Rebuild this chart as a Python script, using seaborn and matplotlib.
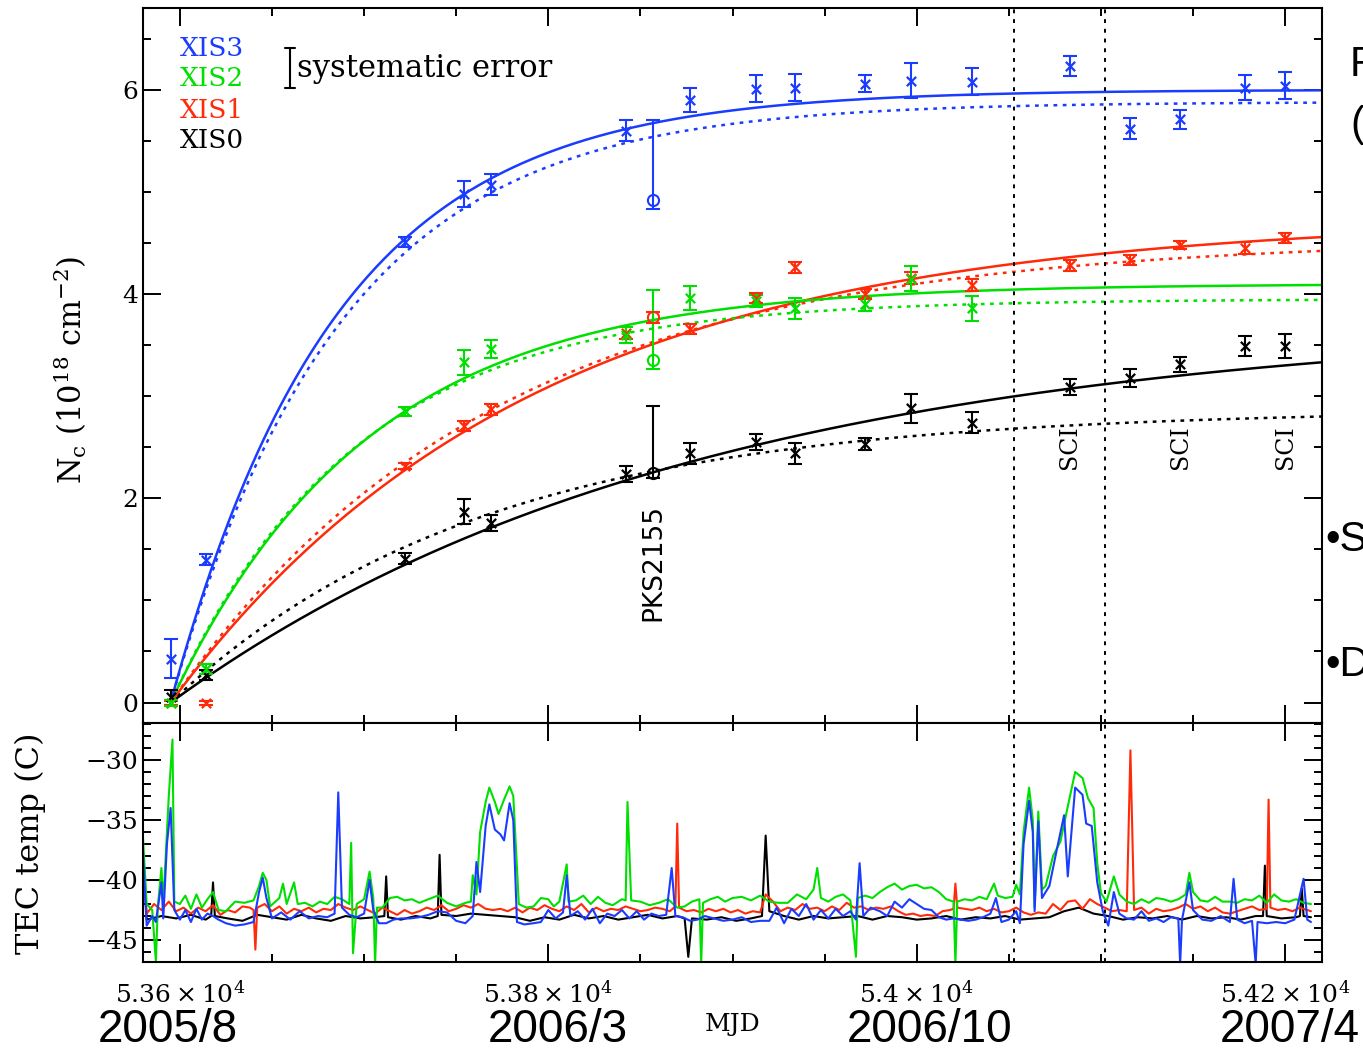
import numpy as np
import pandas as pd
import matplotlib
matplotlib.use("Agg")
import matplotlib.pyplot as plt
import seaborn as sns
from matplotlib.ticker import MultipleLocator, FuncFormatter

sns.set_theme(style="ticks")
plt.rcParams["font.family"] = ["DejaVu Serif"]
plt.rcParams["mathtext.fontset"] = "dejavuserif"
plt.rcParams["axes.unicode_minus"] = True
plt.rcParams["text.color"] = "black"
plt.rcParams["axes.labelcolor"] = "black"
plt.rcParams["xtick.color"] = "black"
plt.rcParams["ytick.color"] = "black"

# ---------------- data: contamination column density ----------------
obs_mjd = [53595, 53614, 53722, 53754, 53769, 53842, 53877, 53913, 53934,
           53972, 53997, 54030, 54083, 54116, 54143, 54178, 54200]
xis3_nc = [0.43, 1.40, 4.51, 4.98, 5.07, 5.60, 5.90, 6.01, 6.02,
           6.06, 6.09, 6.08, 6.23, 5.62, 5.71, 6.02, 6.04]
xis3_err = [0.19, 0.05, 0.05, 0.13, 0.10, 0.10, 0.12, 0.13, 0.13,
            0.08, 0.17, 0.13, 0.10, 0.10, 0.09, 0.12, 0.13]
xis1_nc = [0.0, 0.0, 2.32, 2.71, 2.87, 3.62, 3.66, 3.96, 4.26,
           4.00, 4.16, 4.09, 4.28, 4.33, 4.48, 4.45, 4.55]
xis1_err = [0.02, 0.02, 0.03, 0.05, 0.05, 0.06, 0.05, 0.05, 0.05,
            0.05, 0.06, 0.06, 0.05, 0.05, 0.04, 0.06, 0.05]
xis0_nc = [0.05, 0.27, 1.41, 1.87, 1.76, 2.24, 2.44, 2.55, 2.44,
           2.53, 2.88, 2.74, 3.09, 3.18, 3.31, 3.49, 3.49]
xis0_err = [0.07, 0.05, 0.05, 0.12, 0.08, 0.08, 0.10, 0.08, 0.10,
            0.06, 0.14, 0.10, 0.08, 0.09, 0.07, 0.10, 0.12]
# XIS2 has no observations after 54030
xis2_mjd = [53595, 53614, 53722, 53754, 53769, 53842, 53877, 53913, 53934,
            53972, 53997, 54030]
xis2_nc = [0.0, 0.33, 2.85, 3.33, 3.46, 3.60, 3.96, 3.93, 3.86, 3.90, 4.15, 3.86]
xis2_err = [0.03, 0.05, 0.04, 0.12, 0.09, 0.08, 0.12, 0.06, 0.10, 0.07, 0.12, 0.12]

# PKS2155 calibration points (open circles): value, lower err, upper err
pks_mjd = 53857
pks_nc = {"XIS3": (4.92, 0.09, 0.78), "XIS2": (3.35, 0.08, 0.69),
          "XIS1": (3.77, 0.05, 0.05), "XIS0": (2.25, 0.05, 0.65)}

# exponential fit parameters N = A (1 - exp(-(t - t0)/tau))
fit_t0 = 53595
fit_solid = {"XIS3": (6.00, 90), "XIS2": (4.10, 107), "XIS1": (4.75, 195), "XIS0": (3.75, 285)}
fit_dotted = {"XIS3": (5.88, 92), "XIS2": (3.95, 100), "XIS1": (4.55, 175), "XIS0": (2.87, 168)}

sci_lines = [54053, 54102]
sci_labels_mjd = [54083, 54143, 54200]

# ---------------- data: TEC temperature traces ----------------
tec_xis2 = [(53580, -36.5), (53582, -42.0), (53585, -42.5), (53587, -46.8), (53588, -42.3),
    (53590, -39.0), (53591, -42.0), (53594, -33.0), (53596, -28.3), (53597, -41.8),
    (53600, -42.0), (53603, -41.3), (53606, -42.4), (53609, -41.2), (53612, -42.3),
    (53615, -41.6), (53618, -41.0), (53621, -42.5), (53625, -42.6), (53630, -41.8),
    (53635, -41.9), (53640, -41.7), (53643, -40.5), (53645, -39.4), (53647, -40.0),
    (53649, -42.2), (53654, -41.5), (53656, -40.3), (53658, -42.0), (53662, -40.2),
    (53664, -42.0), (53668, -41.9), (53672, -42.2), (53676, -41.8), (53680, -42.0),
    (53684, -41.4), (53688, -41.6), (53692, -42.0), (53693, -36.9), (53694, -46.1),
    (53696, -42.0), (53700, -41.6), (53703, -39.3), (53705, -41.5), (53706, -47.0),
    (53707, -42.3), (53710, -42.3), (53714, -41.5), (53718, -41.4), (53722, -41.7),
    (53726, -41.6), (53730, -41.9), (53735, -41.6), (53740, -41.3), (53745, -41.9),
    (53750, -42.2), (53755, -41.9), (53758, -41.8), (53759, -39.6), (53761, -41.2),
    (53763, -36.0), (53766, -33.5), (53768, -32.3), (53771, -33.5), (53773, -34.5),
    (53776, -33.3), (53779, -32.2), (53781, -33.0), (53782, -36.0), (53784, -42.0),
    (53788, -42.3), (53792, -42.2), (53796, -41.5), (53800, -41.6), (53803, -42.2),
    (53806, -41.8), (53810, -38.7), (53811, -41.8), (53815, -41.7), (53819, -41.3),
    (53823, -42.0), (53827, -41.4), (53831, -41.9), (53835, -42.1), (53840, -41.6),
    (53842, -41.7), (53843, -33.5), (53845, -41.7), (53850, -41.8), (53855, -42.1),
    (53860, -41.9), (53865, -41.6), (53870, -42.3), (53874, -42.2), (53878, -41.8),
    (53882, -41.6), (53883, -47.0), (53884, -41.9), (53888, -41.6), (53892, -41.4),
    (53896, -41.8), (53900, -41.5), (53905, -41.4), (53910, -41.7), (53915, -41.3),
    (53920, -41.8), (53925, -41.9), (53930, -41.9), (53935, -41.2), (53940, -41.6),
    (53944, -40.8), (53946, -39.0), (53948, -41.5), (53952, -41.8), (53956, -41.4),
    (53960, -41.2), (53964, -41.7), (53967, -46.4), (53968, -41.5), (53972, -41.3),
    (53976, -41.5), (53980, -41.0), (53984, -40.6), (53988, -40.3), (53992, -40.8),
    (53996, -40.5), (54000, -40.4), (54004, -40.7), (54008, -40.6), (54012, -41.0),
    (54016, -41.6), (54020, -41.8), (54021, -47.0), (54022, -41.8), (54026, -41.6),
    (54030, -41.7), (54034, -41.4), (54038, -41.6), (54042, -40.3), (54044, -41.3),
    (54048, -41.5), (54052, -41.4), (54054, -40.4), (54056, -41.2), (54058, -36.0),
    (54061, -32.3), (54063, -35.0), (54064, -42.3), (54066, -34.3), (54068, -40.8),
    (54070, -40.5), (54074, -38.0), (54078, -36.8), (54081, -34.6), (54086, -31.0),
    (54090, -31.5), (54093, -33.2), (54096, -34.0), (54098, -38.6), (54100, -41.1),
    (54103, -41.8), (54107, -39.7), (54110, -41.2), (54114, -41.8), (54118, -42.0),
    (54122, -41.6), (54126, -41.9), (54130, -41.5), (54134, -41.6), (54138, -41.8),
    (54142, -41.6), (54146, -41.2), (54148, -39.4), (54150, -41.0), (54154, -41.7),
    (54158, -41.8), (54162, -41.4), (54166, -41.8), (54170, -41.8), (54174, -41.9),
    (54178, -41.6), (54182, -41.7), (54186, -41.3), (54190, -41.9), (54194, -41.2),
    (54198, -41.7), (54202, -41.8), (54206, -41.6), (54210, -41.9), (54214, -42.0)]

tec_xis3 = [(53580, -37.7), (53582, -43.8), (53585, -43.0), (53587, -43.5), (53590, -40.2),
    (53591, -43.2), (53593, -37.0), (53595, -34.0), (53597, -42.5), (53600, -43.3),
    (53603, -42.5), (53606, -43.5), (53609, -42.4), (53612, -43.3), (53615, -42.8),
    (53618, -43.0), (53621, -43.3), (53625, -43.6), (53630, -43.8), (53635, -43.7),
    (53640, -43.5), (53643, -41.0), (53645, -39.8), (53647, -41.5), (53650, -43.2),
    (53655, -42.7), (53660, -43.3), (53665, -42.6), (53670, -43.2), (53675, -43.0),
    (53680, -43.1), (53684, -42.8), (53686, -32.7), (53688, -42.3), (53692, -42.9),
    (53696, -43.1), (53700, -42.8), (53703, -40.0), (53705, -42.5), (53708, -43.6),
    (53712, -43.6), (53716, -43.3), (53720, -43.2), (53725, -43.2), (53730, -43.1),
    (53735, -42.9), (53740, -42.6), (53745, -42.7), (53750, -43.4), (53755, -43.6),
    (53759, -43.0), (53761, -38.5), (53763, -41.0), (53766, -35.5), (53768, -33.7),
    (53771, -35.8), (53774, -36.2), (53776, -36.7), (53779, -33.6), (53781, -35.0),
    (53783, -43.5), (53787, -43.7), (53792, -43.6), (53796, -43.5), (53800, -42.5),
    (53804, -43.2), (53808, -42.7), (53810, -39.6), (53812, -43.0), (53816, -42.6),
    (53820, -43.3), (53824, -42.4), (53828, -43.6), (53832, -42.8), (53836, -43.0),
    (53840, -42.5), (53844, -43.2), (53848, -42.6), (53852, -43.3), (53856, -42.8),
    (53860, -43.0), (53864, -42.9), (53867, -39.0), (53869, -43.0), (53873, -43.1),
    (53877, -43.4), (53881, -43.3), (53885, -43.0), (53890, -43.2), (53895, -43.4),
    (53900, -43.3), (53905, -43.1), (53910, -43.5), (53915, -43.4), (53920, -43.4),
    (53924, -42.3), (53928, -43.6), (53932, -42.4), (53936, -43.0), (53940, -42.0),
    (53944, -43.3), (53948, -42.5), (53952, -43.2), (53956, -42.4), (53960, -43.0),
    (53964, -42.6), (53967, -43.3), (53969, -38.6), (53971, -43.0), (53975, -42.3),
    (53980, -42.6), (53984, -43.0), (53988, -41.8), (53992, -42.3), (53996, -41.6),
    (54000, -42.0), (54004, -42.4), (54008, -42.5), (54012, -43.1), (54016, -43.3),
    (54020, -43.2), (54024, -43.3), (54028, -43.4), (54032, -43.3), (54036, -43.1),
    (54040, -42.8), (54043, -41.5), (54046, -43.5), (54050, -43.3), (54054, -42.6),
    (54056, -43.6), (54058, -37.0), (54061, -33.4), (54063, -36.0), (54064, -42.6),
    (54066, -35.1), (54068, -41.5), (54072, -40.5), (54076, -37.5), (54080, -34.6),
    (54082, -39.7), (54086, -32.3), (54090, -32.9), (54092, -35.3), (54095, -35.5),
    (54098, -40.2), (54101, -42.6), (54104, -43.8), (54107, -41.0), (54110, -42.8),
    (54114, -43.2), (54118, -43.3), (54122, -42.6), (54126, -43.4), (54130, -43.2),
    (54134, -43.5), (54138, -43.1), (54142, -43.2), (54143, -47.0), (54144, -43.3),
    (54148, -40.2), (54150, -42.5), (54155, -43.3), (54160, -43.4), (54165, -43.0),
    (54170, -43.5), (54172, -39.9), (54174, -43.3), (54178, -43.6), (54182, -43.4),
    (54184, -47.0), (54185, -43.5), (54190, -43.6), (54195, -43.5), (54200, -43.6),
    (54205, -43.3), (54210, -39.9), (54212, -43.3), (54214, -43.5)]

tec_xis1 = [(53580, -37.6), (53582, -42.8), (53586, -42.0), (53590, -42.5), (53594, -41.8),
    (53598, -42.6), (53602, -42.3), (53606, -42.8), (53610, -42.3), (53614, -42.6),
    (53618, -42.1), (53622, -42.9), (53626, -42.5), (53630, -42.7), (53634, -42.2),
    (53638, -42.3), (53640, -42.5), (53641, -45.8), (53642, -42.3), (53646, -42.0),
    (53650, -42.6), (53654, -42.2), (53658, -42.8), (53662, -42.4), (53666, -42.6),
    (53670, -42.3), (53674, -42.7), (53678, -42.4), (53682, -42.5), (53686, -42.0),
    (53690, -42.3), (53694, -42.5), (53698, -42.2), (53702, -42.5), (53706, -42.8),
    (53710, -42.3), (53714, -42.6), (53718, -42.9), (53722, -42.5), (53726, -42.8),
    (53730, -42.6), (53734, -42.3), (53738, -42.5), (53742, -42.1), (53746, -42.6),
    (53750, -42.4), (53754, -42.1), (53758, -42.3), (53762, -42.0), (53766, -42.4),
    (53770, -42.5), (53774, -42.4), (53778, -42.6), (53782, -42.3), (53786, -42.7),
    (53790, -42.3), (53794, -42.5), (53798, -42.1), (53802, -42.4), (53806, -42.6),
    (53810, -42.2), (53814, -42.5), (53818, -42.0), (53822, -42.7), (53826, -42.3),
    (53830, -42.6), (53834, -42.4), (53838, -42.5), (53842, -42.2), (53846, -42.4),
    (53850, -42.6), (53854, -42.5), (53858, -42.3), (53862, -42.4), (53866, -42.6),
    (53869, -42.2), (53870, -35.3), (53871, -42.3), (53875, -42.6), (53879, -42.5),
    (53883, -42.7), (53887, -42.4), (53891, -42.6), (53895, -42.4), (53899, -42.7),
    (53903, -42.5), (53907, -42.8), (53911, -42.6), (53915, -42.7), (53918, -41.2),
    (53922, -41.8), (53926, -42.6), (53930, -42.3), (53934, -42.5), (53938, -42.0),
    (53942, -42.4), (53946, -42.3), (53950, -42.6), (53954, -42.2), (53958, -42.5),
    (53962, -41.9), (53966, -42.3), (53970, -42.2), (53974, -42.5), (53978, -42.3),
    (53982, -42.4), (53986, -42.2), (53990, -42.6), (53994, -42.9), (53998, -42.8),
    (54002, -43.0), (54006, -42.9), (54010, -43.0), (54014, -42.6), (54018, -42.5),
    (54020, -42.4), (54021, -40.3), (54022, -42.3), (54026, -42.4), (54030, -42.5),
    (54034, -42.3), (54038, -42.6), (54042, -42.4), (54046, -42.7), (54050, -42.6),
    (54054, -42.3), (54058, -42.7), (54062, -42.9), (54066, -42.7), (54070, -42.8),
    (54074, -42.0), (54078, -42.5), (54082, -41.8), (54086, -41.7), (54090, -42.4),
    (54094, -41.6), (54098, -42.0), (54102, -42.3), (54106, -42.6), (54110, -42.5),
    (54114, -42.6), (54116, -29.2), (54118, -42.5), (54122, -42.3), (54126, -42.8),
    (54130, -42.4), (54134, -42.6), (54138, -42.5), (54142, -42.3), (54146, -42.0),
    (54150, -42.4), (54154, -42.2), (54158, -42.6), (54162, -42.3), (54166, -42.7),
    (54170, -42.8), (54174, -42.6), (54178, -42.4), (54182, -42.2), (54186, -42.5),
    (54190, -42.4), (54191, -33.3), (54192, -42.3), (54196, -42.5), (54200, -42.4),
    (54204, -42.6), (54208, -42.3), (54212, -42.5), (54214, -42.6)]

tec_xis0 = [(53580, -38.0), (53582, -43.3), (53590, -43.0), (53598, -43.2), (53606, -42.9),
    (53614, -43.3), (53617, -43.0), (53618, -40.2), (53619, -43.0), (53626, -43.2),
    (53634, -43.4), (53642, -42.9), (53650, -43.1), (53658, -43.3), (53666, -42.9),
    (53674, -43.2), (53682, -43.4), (53690, -43.0), (53698, -43.2), (53706, -43.1),
    (53711, -43.0), (53712, -39.7), (53713, -43.1), (53720, -43.3), (53728, -43.0),
    (53736, -43.2), (53740, -43.0), (53741, -37.9), (53742, -42.9), (53750, -43.0),
    (53758, -42.8), (53766, -42.9), (53774, -43.0), (53782, -43.1), (53790, -43.4),
    (53798, -43.1), (53806, -43.3), (53814, -42.9), (53822, -43.2), (53830, -43.0),
    (53838, -43.3), (53846, -43.1), (53854, -42.9), (53862, -43.2), (53870, -43.0),
    (53874, -43.2), (53876, -46.4), (53878, -43.2), (53886, -43.3), (53894, -43.1),
    (53902, -43.4), (53910, -43.2), (53916, -43.0), (53918, -36.3), (53920, -42.6),
    (53928, -43.0), (53936, -43.3), (53944, -43.0), (53952, -43.2), (53960, -43.1),
    (53968, -43.0), (53976, -43.3), (53984, -43.0), (53992, -43.1), (54000, -43.3),
    (54008, -43.2), (54016, -43.0), (54024, -43.3), (54032, -43.1), (54040, -43.2),
    (54048, -43.0), (54056, -43.3), (54064, -43.2), (54072, -43.1), (54080, -42.6),
    (54088, -42.3), (54096, -42.8), (54104, -43.0), (54112, -43.3), (54120, -43.1),
    (54128, -43.2), (54136, -43.0), (54144, -43.3), (54152, -43.0), (54160, -43.2),
    (54168, -43.1), (54176, -43.3), (54184, -43.0), (54188, -43.0), (54189, -38.8),
    (54190, -43.0), (54198, -43.2), (54206, -43.1), (54208, -43.0), (54209, -40.7),
    (54210, -43.0), (54214, -43.1)]

date_labels = ["2005/8", "2006/3", "2006/10", "2007/4"]
date_x_px = [168, 558, 930, 1290]

# ---------------- styling ----------------
colors = {"XIS3": "#1a3cff", "XIS2": "#00e000", "XIS1": "#ff2a0a", "XIS0": "#000000"}
W, H = 1363, 1052
fig = plt.figure(figsize=(W / 100, H / 100), dpi=100)
L, R = 143 / W, 1322 / W
ax1 = fig.add_axes([L, 1 - 723 / H, R - L, (723 - 8) / H])
ax2 = fig.add_axes([L, 1 - 962 / H, R - L, (962 - 723) / H], sharex=ax1)

XMIN, XMAX = 53580, 54220

# fit curves
tgrid = np.linspace(fit_t0, XMAX, 400)
for name in ["XIS0", "XIS1", "XIS2", "XIS3"]:
    A, tau = fit_solid[name]
    df = pd.DataFrame({"t": tgrid, "n": A * (1 - np.exp(-(tgrid - fit_t0) / tau))})
    sns.lineplot(data=df, x="t", y="n", ax=ax1, color=colors[name], lw=1.8,
                 estimator=None, sort=False)
    A, tau = fit_dotted[name]
    df = pd.DataFrame({"t": tgrid, "n": A * (1 - np.exp(-(tgrid - fit_t0) / tau))})
    sns.lineplot(data=df, x="t", y="n", ax=ax1, color=colors[name], lw=1.8,
                 linestyle=(0, (1.5, 2.2)), estimator=None, sort=False)

series = {"XIS0": (obs_mjd, xis0_nc, xis0_err), "XIS1": (obs_mjd, xis1_nc, xis1_err),
          "XIS2": (xis2_mjd, xis2_nc, xis2_err), "XIS3": (obs_mjd, xis3_nc, xis3_err)}
for name, (mx, my, me) in series.items():
    c = colors[name]
    ax1.errorbar(mx, my, yerr=me, fmt="none", ecolor=c, elinewidth=1.5,
                 capsize=5, capthick=1.5, zorder=3)
    sns.scatterplot(x=mx, y=my, ax=ax1, marker="x", color=c, s=45,
                    linewidth=1.6, zorder=4)
    v, lo, hi = pks_nc[name]
    ax1.errorbar([pks_mjd], [v], yerr=[[lo], [hi]], fmt="o", mfc="none", mec=c,
                 ms=8, mew=1.5, ecolor=c, elinewidth=1.5, capsize=5, capthick=1.5,
                 zorder=4)

for m in sci_lines:
    ax1.axvline(m, color="black", lw=1.4, linestyle=(0, (2, 3)))
    ax2.axvline(m, color="black", lw=1.4, linestyle=(0, (2, 3)))

ax1.text(pks_mjd, 1.37, "PKS2155", rotation=90, ha="center", va="center",
         fontsize=19, family="DejaVu Sans")
for m in sci_labels_mjd:
    ax1.text(m, 2.5, "SCI", rotation=90, ha="center", va="center", fontsize=17)

# legend-like labels
for i, name in enumerate(["XIS3", "XIS2", "XIS1", "XIS0"]):
    ax1.text(0.0314, [0.944, 0.901, 0.857, 0.814][i], name, color=colors[name],
             transform=ax1.transAxes, ha="left", va="center", fontsize=19)
ex = 0.1247
ax1.plot([ex, ex], [0.888, 0.944], color="black", lw=1.5, transform=ax1.transAxes)
for yy in (0.888, 0.944):
    ax1.plot([ex - 0.0042, ex + 0.0042], [yy, yy], color="black", lw=1.5,
             transform=ax1.transAxes)
ax1.text(0.131, 0.916, "systematic error", transform=ax1.transAxes,
         ha="left", va="center", fontsize=22)

ax1.set_xlim(XMIN, XMAX)
ax1.set_ylim(-0.2, 6.8)
ax1.yaxis.set_major_locator(MultipleLocator(2))
ax1.yaxis.set_minor_locator(MultipleLocator(0.5))
ax1.set_ylabel(r"N$_{\rm c}$ (10$^{18}$ cm$^{-2}$)", fontsize=22)
ax1.yaxis.set_label_coords(-0.046, 0.494)
ax1.set_xlabel("")
ax1.tick_params(axis="x", labelbottom=False)

# TEC temperature traces
for name, trace in [("XIS0", tec_xis0), ("XIS1", tec_xis1), ("XIS2", tec_xis2), ("XIS3", tec_xis3)]:
    df = pd.DataFrame(trace, columns=["mjd", "temp"])
    sns.lineplot(data=df, x="mjd", y="temp", ax=ax2, color=colors[name], lw=1.5,
                 estimator=None, sort=False)

ax2.set_ylim(-46.83, -26.92)
ax2.yaxis.set_major_locator(MultipleLocator(5))
ax2.yaxis.set_minor_locator(MultipleLocator(1))
ax2.set_ylabel("TEC temp (C)", fontsize=23)
ax2.yaxis.set_label_coords(-0.082, 0.498)
ax2.set_xlabel("")
ax2.xaxis.set_major_locator(MultipleLocator(200))
ax2.xaxis.set_minor_locator(MultipleLocator(50))


def mjd_fmt(v, pos):
    return r"$%g\times10^{4}$" % (v / 1e4)


ax2.xaxis.set_major_formatter(FuncFormatter(mjd_fmt))

for ax in (ax1, ax2):
    ax.tick_params(which="both", direction="in", top=True, right=True,
                   labelsize=18, width=1.4, colors="black")
    ax.tick_params(which="major", length=13)
    ax.tick_params(which="minor", length=6)
    for s in ax.spines.values():
        s.set_linewidth(1.5)
        s.set_color("black")
ax2.tick_params(axis="x", pad=14)

fig.text(733 / W, 1 - 1025 / H, "MJD", ha="center", va="center", fontsize=18)
for lab, xp in zip(date_labels, date_x_px):
    fig.text(xp / W, 1 - 1030 / H, lab, ha="center", va="center", fontsize=33,
             family="Liberation Sans", color="black")

# fragments of slide text at the right edge (cut off as in the source slide)
fig.text(1350 / W, 1 - 65 / H, "F", ha="left", va="center", fontsize=30,
         family="Liberation Sans", color="black")
fig.text(1350 / W, 1 - 125 / H, "(", ha="left", va="center", fontsize=30,
         family="Liberation Sans", color="black")
fig.text(1325 / W, 1 - 540 / H, "\u2022S", ha="left", va="center", fontsize=30,
         family="Liberation Sans", color="black")
fig.text(1325 / W, 1 - 665 / H, "\u2022D", ha="left", va="center", fontsize=30,
         family="Liberation Sans", color="black")

fig.savefig("out.png", dpi=100)
